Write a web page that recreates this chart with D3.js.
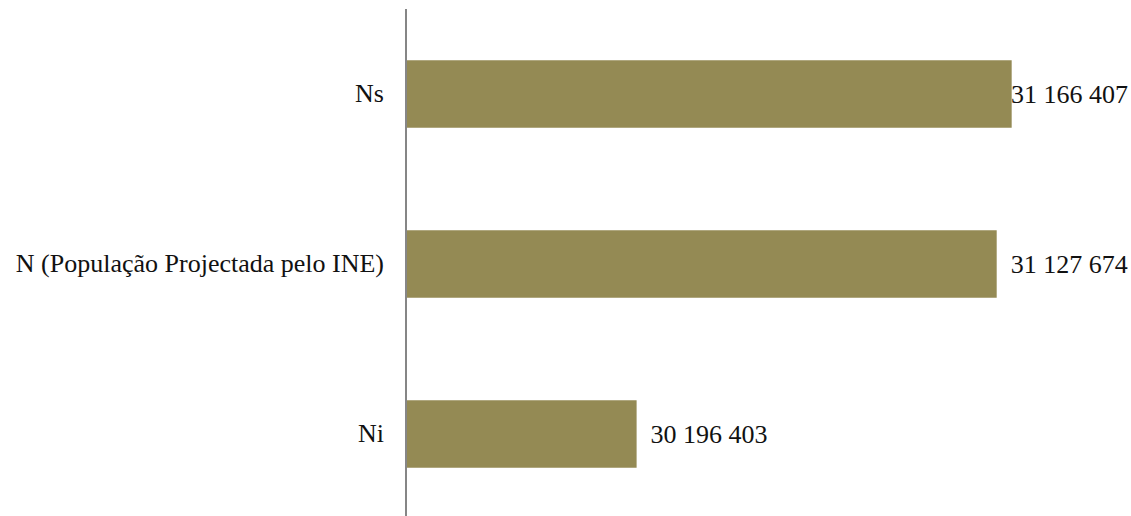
<!DOCTYPE html>
<html>
<head>
<meta charset="utf-8">
<script src="https://cdn.jsdelivr.net/npm/d3@7"></script>
<style>
  html, body { margin: 0; padding: 0; background: #fff; }
  svg { display: block; }
  text { font-family: "Liberation Serif", "DejaVu Serif", serif; fill: #111; }
</style>
</head>
<body>
<svg id="chart" width="1131" height="516"></svg>
<script>
// Population estimates (upper bound, INE projection, lower bound)
const categories = ["Ns", "N (População Projectada pelo INE)", "Ni"];
const values = [31166407, 31127674, 30196403];
const xDomain = [29600000, 31400000];

const W = 1131, H = 516;
const axisX = 406, xRight = 1102;
const fontSize = 26;

const svg = d3.select("#chart");

const x = d3.scaleLinear().domain(xDomain).range([axisX, xRight]);
const y = d3.scaleBand().domain(categories).range([9, 519])
  .paddingInner(0.603).paddingOuter(0.3015);

const fmt = v => d3.format(",")(v).replace(/,/g, " ");

// Bars
svg.append("g").selectAll("rect")
  .data(categories)
  .join("rect")
  .attr("x", x(xDomain[0]))
  .attr("y", d => y(d))
  .attr("width", (d, i) => x(values[i]) - x(xDomain[0]))
  .attr("height", y.bandwidth())
  .attr("fill", "#948A54");

// Category axis (labels only; the vertical line is drawn below)
const yAxis = d3.axisLeft(y).tickSize(0).tickPadding(22);
const gy = svg.append("g").attr("transform", `translate(${axisX},0)`).call(yAxis);
gy.select(".domain").remove();
gy.selectAll("text")
  .style("font-family", '"Liberation Serif", "DejaVu Serif", serif')
  .attr("font-size", fontSize)
  .attr("fill", "#111");

svg.append("line")
  .attr("x1", axisX).attr("x2", axisX)
  .attr("y1", 9).attr("y2", H)
  .attr("stroke", "#868686").attr("stroke-width", 2);

// Value labels, kept inside the plot on the right
const labels = svg.append("g").selectAll("text")
  .data(categories)
  .join("text")
  .attr("y", d => y(d) + y.bandwidth() / 2)
  .attr("dy", "0.35em")
  .attr("font-size", fontSize)
  .text((d, i) => fmt(values[i]));

labels.each(function (d, i) {
  const w = this.getComputedTextLength();
  const px = Math.min(x(values[i]) + 14, W - 3 - w);
  d3.select(this).attr("x", px);
});
</script>
</body>
</html>
